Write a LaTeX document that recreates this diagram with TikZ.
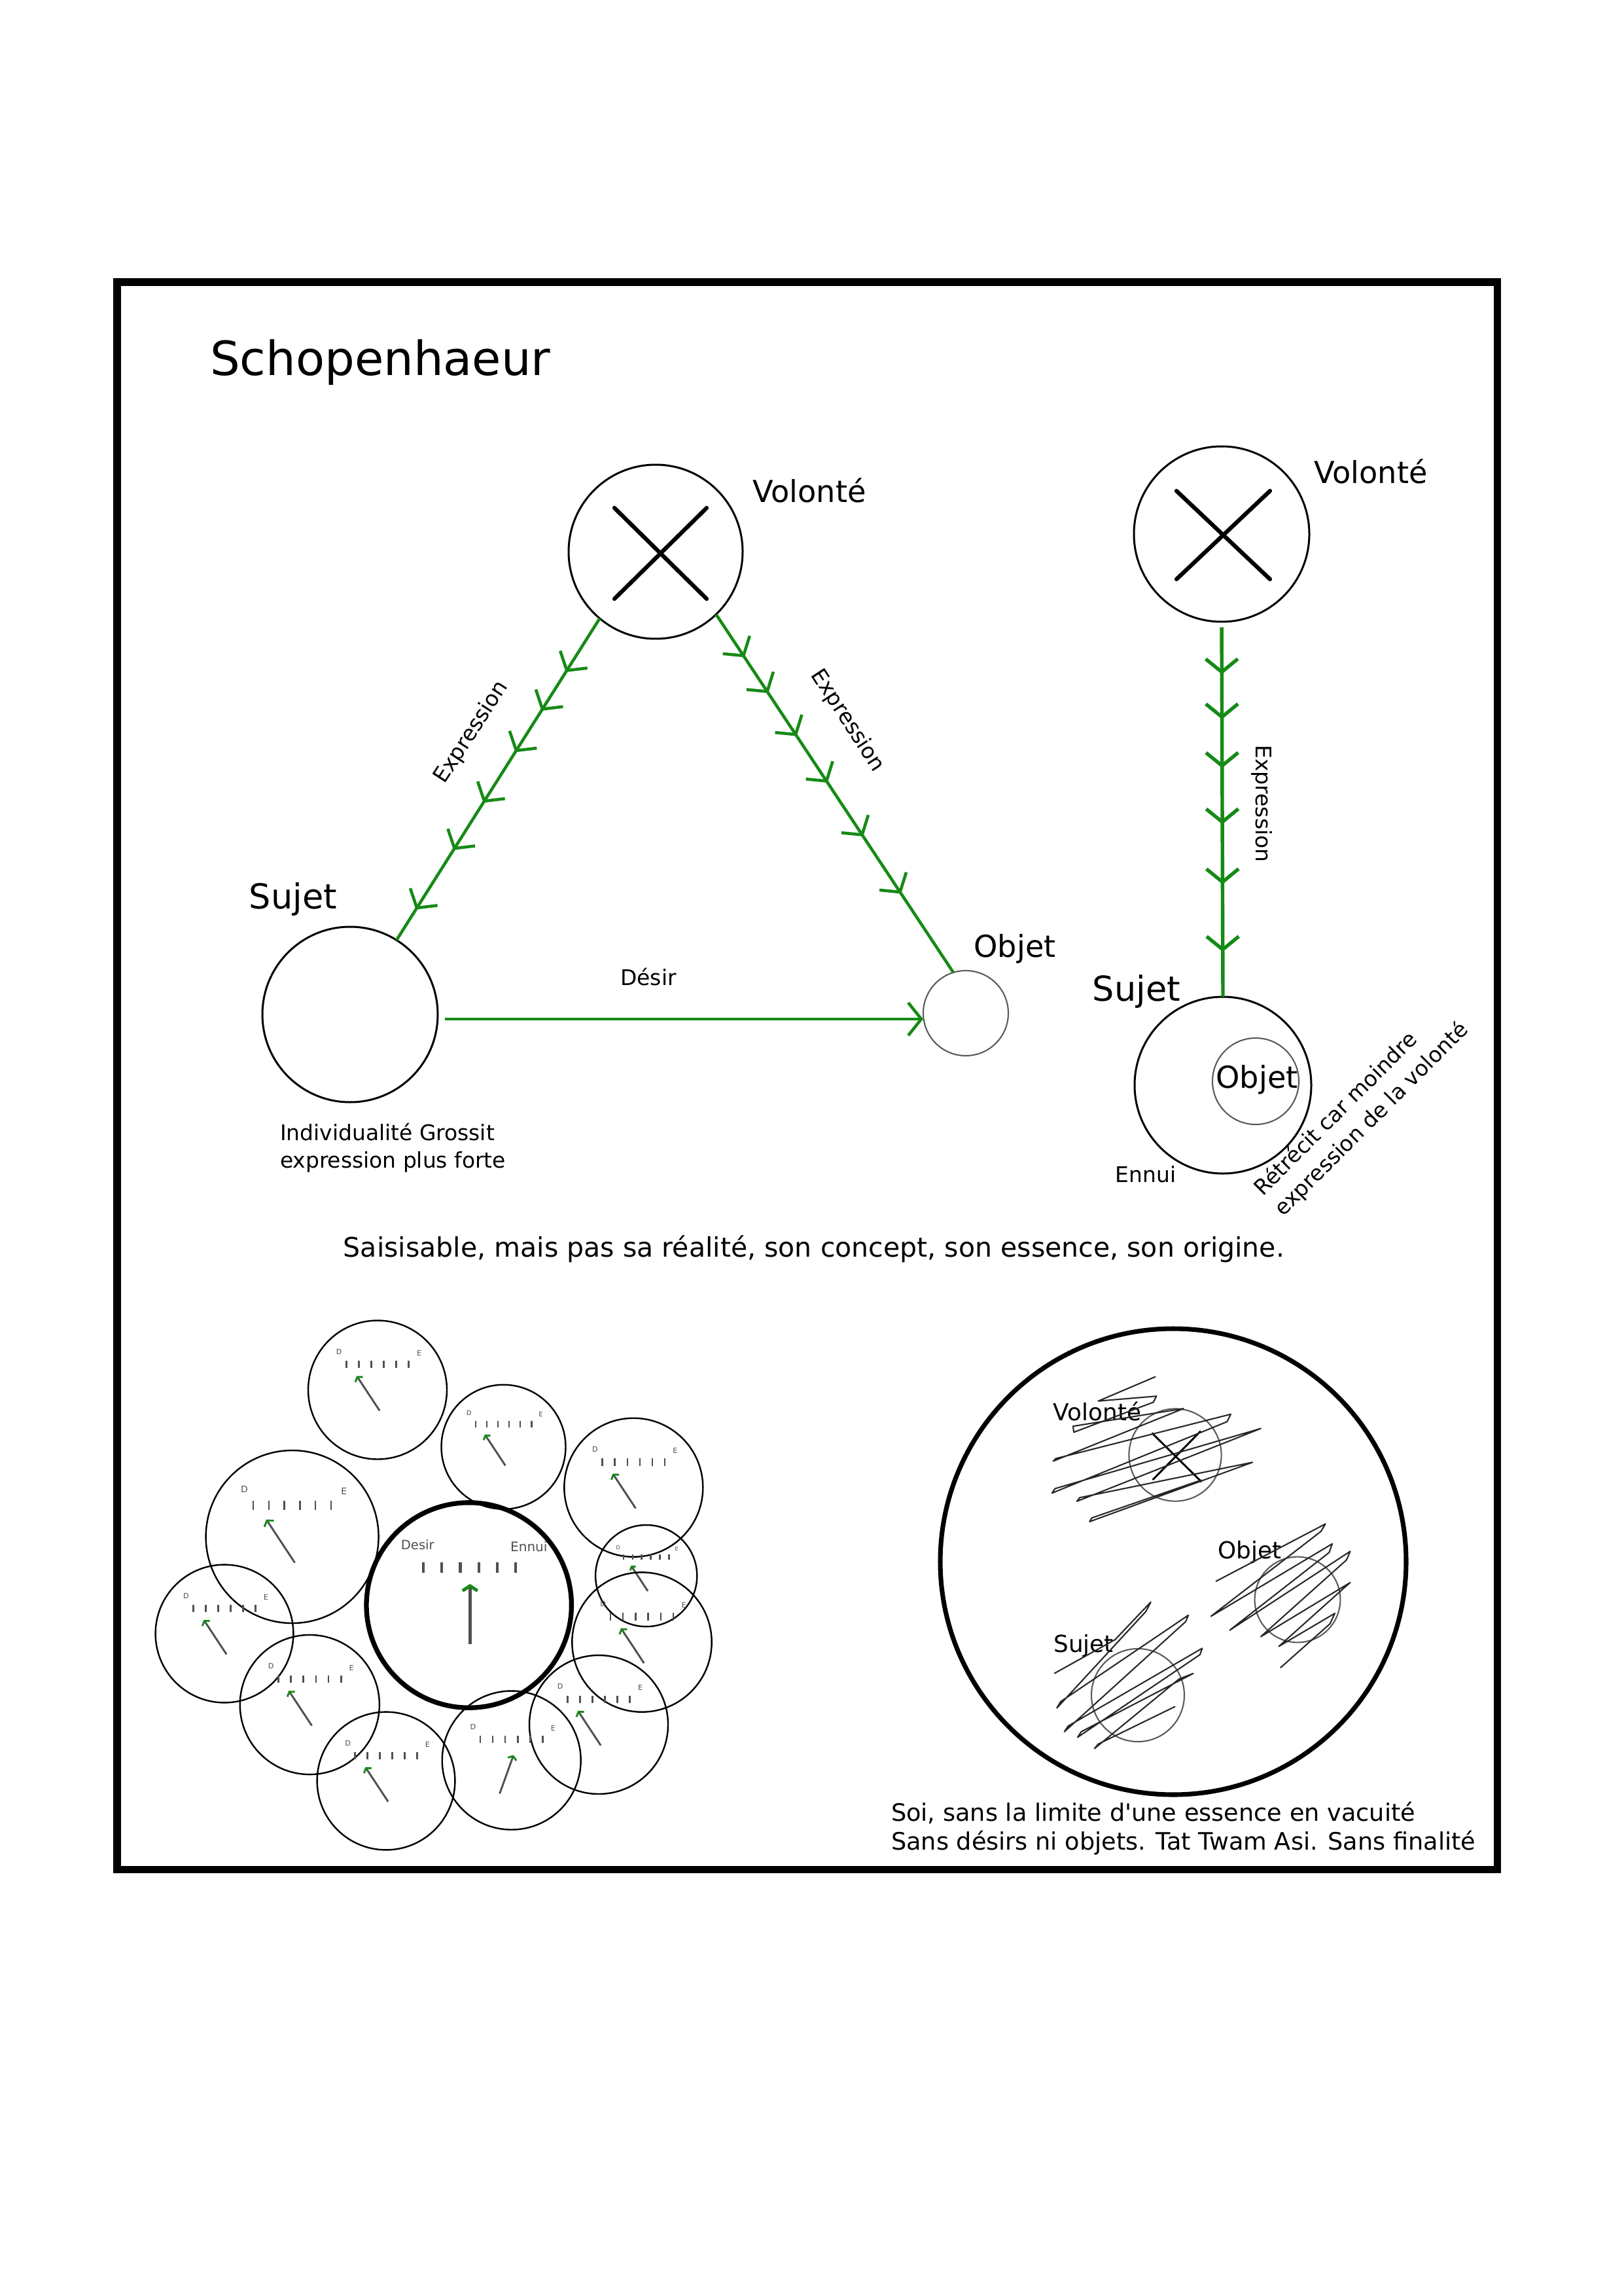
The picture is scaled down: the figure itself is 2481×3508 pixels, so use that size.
\documentclass[tikz,border=0pt]{standalone}
\usepackage{fontspec}
\setmainfont{DejaVu Sans}
\usetikzlibrary{arrows.meta,decorations.markings}
\definecolor{mygreen}{RGB}{22,138,22}
\definecolor{needlegray}{RGB}{80,80,80}
\newcommand\fsz[2]{\fontsize{#1}{#2}\selectfont}
\pgfkeys{/pgf/decoration/cm/.style={mark=at position #1 with {\arrow{Straight Barb[length=4.8pt,width=11.8pt]}}}}
\tikzset{
  circ/.style={circle,draw,inner sep=0pt,outer sep=0pt,minimum size={#1*0.48pt},line width=0.72pt},
  thincirc/.style={circ=#1,line width=0.5pt,draw=black!65},
  gcirc/.style={circ=#1,line width=0.58pt},
  gline/.style={color=mygreen,line width=1.1pt},
  xline/.style={line width=1.5pt,line cap=round},
  lbl/.style={inner sep=0pt,outer sep=0pt},
  tk/.style={line width=0.6pt,draw=needlegray},
  needle/.style={line width=0.7pt,draw=needlegray},
  dlab/.style={inner sep=0pt,text=needlegray},
  scrib/.style={line width=0.5pt,draw=black!85,line join=round},
  pics/gauge/.style n args={6}{code={
    \pgfmathsetmacro\gfs{0.105*#1*0.24}
    \pgfmathsetmacro\gtw{0.13*#1*0.24}
    \pgfmathsetmacro\gtl{0.045*#1*0.24}
    \node[gcirc=#1] (-c) at (0,0) {};
    \foreach \k in {0,...,5}
      \draw[tk] ({(-0.45+0.18*\k)*#1},{(-0.42+#6)*#1}) -- ++(0,{0.107*#1});
    \node[dlab,font={\fontsize{\gfs pt}{\gfs pt}\selectfont}] (-d) at ({-0.555*#1},{(-0.55+#6)*#1}) {D};
    \node[dlab,font={\fontsize{\gfs pt}{\gfs pt}\selectfont}] (-e) at ({0.6*#1},{(-0.53+#6)*#1}) {E};
    \draw[needle,-{Straight Barb[color=mygreen,length=\gtl pt,width=\gtw pt]}] ({#2*#1},{#3*#1}) -- ({#4*#1},{#5*#1});
  }}
}
\begin{document}
\begin{tikzpicture}[x=0.24pt,y=-0.24pt]
\fill[white] (0,0) rectangle (2481,3508);
\useasboundingbox (0,0) rectangle (2481,3508);

% frame
\draw[line width=2.65pt] (179,431) rectangle (2288,2856);
\node[lbl,anchor=base west,font=\fsz{17.3pt}{20pt}] (title) at (321,574) {Schopenhaeur};

% ---------- triangle diagram ----------
\node[circ=133] (vol1) at (1002,843) {};
\draw[xline] ([shift={(-63,-67)}]vol1.center) -- ([shift={(78,72)}]vol1.center);
\draw[xline] ([shift={(78,-67)}]vol1.center) -- ([shift={(-63,72)}]vol1.center);
\node[circ=134] (suj1) at (535,1550) {};
\node[thincirc=65] (obj1) at (1476,1548) {};

\node[lbl,font=\fsz{11.1pt}{13pt}] (volt1) at (1237,749) {Volonté};
\node[lbl,font=\fsz{12.6pt}{15pt}] (sujt1) at (448,1374) {Sujet};
\node[lbl,font=\fsz{11.1pt}{13pt}] (objt1) at (1551,1450) {Objet};

\draw[gline,postaction={decorate},decoration={markings,cm=0.167,cm=0.287,cm=0.416,cm=0.573,cm=0.72,cm=0.905}]
  (vol1.230.4) -- (suj1.58.7);
\draw[gline,postaction={decorate},decoration={markings,cm=0.12,cm=0.22,cm=0.34,cm=0.47,cm=0.62,cm=0.78}]
  (vol1.-46.7) -- (obj1.107.6);
\coordinate (dy) at (0,1557);
\draw[gline,-{Straight Barb[length=4.8pt,width=12pt]},shorten <=2.6pt] (suj1.east |- dy) -- (obj1.west |- dy);

\node[lbl,rotate=57,font=\fsz{7.9pt}{9.5pt}] (expr1) at (721,1119) {Expression};
\node[lbl,rotate=-57,font=\fsz{7.9pt}{9.5pt}] (expr2) at (1295,1101) {Expression};
\node[lbl,font=\fsz{7.9pt}{9.5pt}] (desir) at (991,1493) {Désir};
\node[lbl,anchor=west,align=left,font=\fsz{7.9pt}{10.1pt}] (indiv) at (428,1754) {Individualité Grossit\\expression plus forte};

% ---------- right diagram ----------
\node[circ=134] (vol2) at (1867,816) {};
\draw[xline] ([shift={(-69,-66)}]vol2.center) -- ([shift={(74,69)}]vol2.center);
\draw[xline] ([shift={(74,-66)}]vol2.center) -- ([shift={(-69,69)}]vol2.center);
\node[circ=135] (suj2) at (1869,1658) {};
\node[thincirc=66] (obj2) at (1919,1652) {};
\node[lbl,font=\fsz{11.1pt}{13pt}] (volt2) at (2095,720) {Volonté};
\node[lbl,font=\fsz{12.6pt}{15pt}] (sujt2) at (1737,1515) {Sujet};
\node[lbl,font=\fsz{11.1pt}{13pt}] (objt2) at (1921,1650) {Objet};
\draw[gline,line width=1.3pt,shorten <=2pt,postaction={decorate},decoration={markings,cm=0.14,cm=0.26,cm=0.39,cm=0.54,cm=0.70,cm=0.88}]
  (vol2.south) -- (suj2.north);
\node[lbl,rotate=-90,font=\fsz{7.9pt}{9.5pt}] (expr3) at (1929,1228) {Expression};
\node[lbl,font=\fsz{7.9pt}{9.5pt}] (ennui) at (1751,1794) {Ennui};
\node[lbl,rotate=45,align=left,font=\fsz{7.9pt}{10.6pt}] (retr) at (2081,1695) {Rétrécit car moindre\\expression de la volonté};

\node[lbl,font=\fsz{9.85pt}{12pt}] (cap1) at (1244,1908) {Saisisable, mais pas sa réalité, son concept, son essence, son origine.};

% ---------- gauge cluster ----------
\node[circ=156.7,line width=1.76pt] (gmain) at (716.7,2452.5) {};
\foreach \k in {0,...,5}
  \draw[tk,line width=1pt] ([shift={({-69.4+28.1*\k},-65.8)}]gmain.center) -- ++(0,16.6);
\node[dlab,font=\fsz{4.7pt}{5pt}] (gdesir) at ([shift={(-78.4,-92.5)}]gmain.center) {Desir};
\node[dlab,font=\fsz{4.8pt}{5pt}] (gennui) at ([shift={(91.6,-89.2)}]gmain.center) {Ennui};
\draw[needle,line width=1.2pt,-{Straight Barb[color=mygreen,length=1.8pt,width=5.5pt]}] ([shift={(1.6,59.2)}]gmain.center) -- ([shift={(1.6,-32.5)}]gmain.center);

\pic (g1) at (577,2123.5) {gauge={106}{0.03}{0.3}{-0.3}{-0.2}{0}};
\pic (g2) at (769.5,2210.7) {gauge={95}{0.03}{0.3}{-0.3}{-0.2}{0}};
\pic (g3) at (968.3,2272.7) {gauge={106}{0.03}{0.3}{-0.3}{-0.2}{0}};
\pic (g4) at (446.6,2348) {gauge={132}{0.03}{0.3}{-0.3}{-0.2}{0}};
\pic (g5) at (987.7,2407.6) {gauge={77.6}{0.03}{0.3}{-0.3}{-0.2}{0}};
\pic (g6) at (343,2496) {gauge={105.4}{0.03}{0.3}{-0.3}{-0.2}{0}};
\pic (g7) at (981,2509) {gauge={106.7}{0.03}{0.3}{-0.3}{-0.2}{0}};
\pic (g8) at (473.3,2604.5) {gauge={106.6}{0.03}{0.3}{-0.3}{-0.2}{0}};
\pic (g9) at (915,2635) {gauge={106}{0.03}{0.3}{-0.3}{-0.2}{0}};
\pic (g10) at (781.7,2689.5) {gauge={106}{-0.17}{0.48}{0.03}{-0.076}{0.065}};
\pic (g11) at (590,2721) {gauge={105.4}{0.03}{0.3}{-0.3}{-0.2}{0}};

% ---------- Soi ----------
\node[circ=356,line width=1.7pt] (soi) at (1793,2386) {};
\node[thincirc=70.6] (vol3) at (1796,2223) {};
\node[thincirc=65.4] (obj3) at (1983,2444) {};
\node[thincirc=71] (suj3) at (1739,2590) {};
\draw[line width=0.7pt] ([shift={(-35.5,-33.6)}]vol3.center) -- ([shift={(40.2,41)}]vol3.center);
\draw[line width=0.7pt] ([shift={(-34.4,38)}]vol3.center) -- ([shift={(39,-36.5)}]vol3.center);
\node[lbl,font=\fsz{8.6pt}{10pt}] (volt3) at (1677,2156) {Volonté};
\node[lbl,font=\fsz{8.6pt}{10pt}] (objt3) at (1910,2372) {Objet};
\node[lbl,font=\fsz{8.6pt}{10pt}] (sujt3) at (1656,2515) {Sujet};
\begin{scope}[shift={(1400,2000)},scale=0.574]
\draw[scrib] (638,180) -- (485,245) -- (640,232) -- (632,248) -- (420,328) -- (418,312) -- (712,265) -- (365,405) -- (372,398) -- (838,280) -- (828,300) -- (362,490) -- (370,478) -- (918,318) -- (428,512) -- (436,502) -- (896,408) -- (462,566) -- (468,556) -- (760,455);
\draw[scrib] (798,725) -- (1090,572) -- (1078,592) -- (785,818) -- (1108,625) -- (1100,648) -- (835,855) -- (1156,645) -- (1146,668) -- (918,872) -- (1156,728) -- (1140,742) -- (966,898) -- (1115,810) -- (1102,838) -- (970,955);
\draw[scrib] (368,970) -- (530,880) -- (625,780) -- (612,805) -- (375,1062) -- (385,1045) -- (725,815) -- (718,832) -- (395,1125) -- (405,1110) -- (762,903) -- (756,920) -- (430,1140) -- (440,1125) -- (738,970) -- (700,985) -- (475,1170) -- (485,1158) -- (690,1058);
\end{scope}
\node[lbl,anchor=west,align=left,font=\fsz{8.8pt}{10.6pt}] (cap2) at (1362,2794) {Soi, sans la limite d\textquotesingle une essence en vacuité\\Sans désirs ni objets. Tat Twam Asi. Sans finalité};
\end{tikzpicture}
\end{document}
